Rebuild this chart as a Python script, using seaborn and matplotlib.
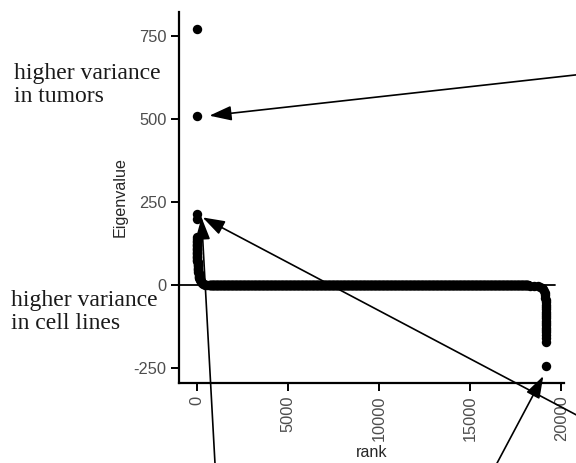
import numpy as np
import pandas as pd
import matplotlib
matplotlib.use("Agg")
import matplotlib.pyplot as plt
import seaborn as sns

# eigenvalues by rank
head_rank = [1, 2, 3, 4]
head_val = [771, 510, 215, 198]

left_rank = [5, 6, 7, 8, 9, 10, 12, 14, 16, 18, 20, 23, 26, 29, 32, 36, 40, 45, 50, 55,
             60, 66, 72, 80, 88, 96, 105, 115, 125, 140, 155, 170, 190, 215, 245, 280,
             330, 400, 480, 580]
left_val = [144, 139, 134, 129, 125, 121, 117, 113, 109, 105, 101, 97, 93, 89, 85, 81,
            77, 73, 69, 65, 61, 57, 53, 49, 45, 41, 37, 33, 29, 25, 21, 18, 15, 12, 9, 7,
            5, 3, 2, 1]

# flat part: value 0 from rank 700 to 18200
flat_start, flat_stop, flat_step = 700, 18200, 20
flat_val = 0

right_rank = [18300, 18500, 18700, 18850, 18950, 19020, 19060, 19090, 19110, 19125,
              19135, 19142, 19148, 19152, 19156, 19159, 19162, 19164, 19166, 19168,
              19169, 19170, 19171, 19172, 19173, 19174, 19175, 19176, 19180]
right_val = [-1, -2, -3, -5, -8, -12, -18, -24, -30, -37, -44, -51, -58, -65, -72, -79,
             -86, -93, -100, -107, -114, -121, -128, -135, -142, -150, -160, -171, -243]

xticks = [0, 5000, 10000, 15000, 20000]
yticks = [-250, 0, 250, 500, 750]

flat_rank = list(range(flat_start, flat_stop, flat_step))
df = pd.DataFrame({
    "rank": head_rank + left_rank + flat_rank + right_rank,
    "Eigenvalue": head_val + left_val + [flat_val] * len(flat_rank) + right_val,
})

sns.set_style("white")
plt.rcParams["font.family"] = ["Liberation Sans", "DejaVu Sans"]
plt.rcParams["axes.unicode_minus"] = False

fig = plt.figure(figsize=(5.76, 4.63), dpi=100)
ax = fig.add_axes([0.311, 0.173, 0.668, 0.801])

ax.axhline(0, xmin=0, xmax=0.977, color="black", lw=1.3, zorder=1)
sns.scatterplot(data=df, x="rank", y="Eigenvalue", color="black", s=46,
                linewidth=0, ax=ax, zorder=2)
ax.margins(0.05)

ax.set_xticks(xticks)
ax.set_yticks(yticks)
ax.set_xticklabels([str(t) for t in xticks], rotation=90)
ax.tick_params(axis="both", which="both", length=6, width=1.4, color="black",
               labelsize=11.8, labelcolor="#4d4d4d", pad=3, left=True, bottom=True)
ax.set_xlabel("rank", fontsize=11.6)
ax.set_ylabel("Eigenvalue", fontsize=11.6)
ax.xaxis.labelpad = 3
for side in ["top", "right"]:
    ax.spines[side].set_visible(False)
for side in ["left", "bottom"]:
    ax.spines[side].set_color("black")
    ax.spines[side].set_linewidth(1.6)

serif = dict(family="Liberation Serif", fontsize=17, color="#1a1a1a", linespacing=1.12)
fig.text(14 / 576, 1 - 63 / 463, "higher variance\nin tumors", va="top", ha="left", **serif)
fig.text(11 / 576, 1 - 290 / 463, "higher variance\nin cell lines", va="top", ha="left", **serif)

arrow = dict(arrowstyle="-|>,head_length=1.35,head_width=0.45", color="black",
             lw=1.2, shrinkA=0, shrinkB=0)
# (tip in data coords, tail in figure pixels)
arrows = [
    ((700, 510), (620, 463 - 70)),
    ((330, 204), (620, 463 - 438)),
    ((270, 204), (216, 463 - 482)),
    ((19010, -273), (487, 463 - 482)),
]
for tip, tail in arrows:
    ax.annotate("", xy=tip, xycoords="data", xytext=tail, textcoords="figure pixels",
                arrowprops=arrow, annotation_clip=False)

fig.savefig("out.png", dpi=100)
